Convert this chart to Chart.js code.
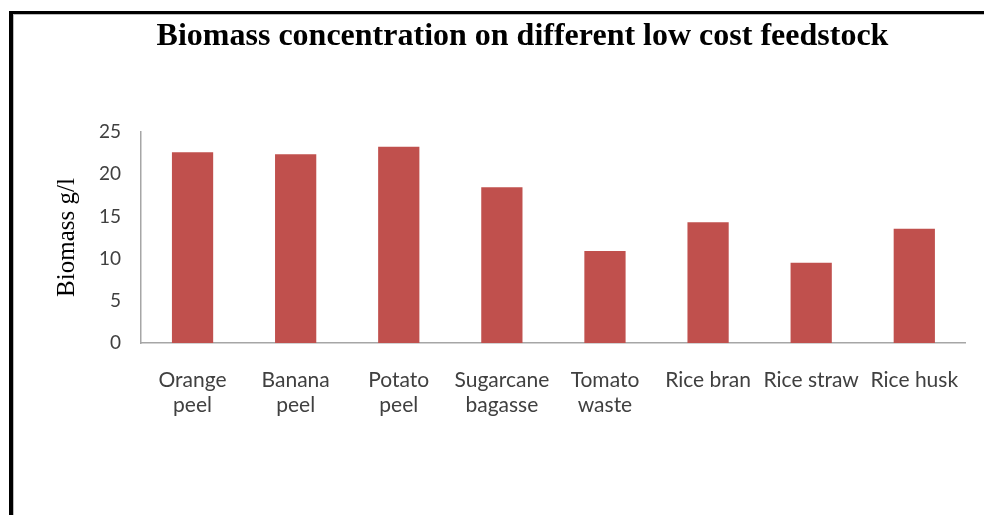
<!DOCTYPE html>
<html>
<head>
<meta charset="utf-8">
<script src="https://cdn.jsdelivr.net/npm/chart.js@4"></script>
<style>
    html, body { margin: 0; padding: 0; background: #fff; overflow: hidden; }
    #wrap { position: relative; width: 984px; height: 515px; }
    #frame {
        position: absolute; left: 9px; top: 11px; width: 1000px; height: 600px;
        border-left: 4px solid #000; border-top: 3px solid #000; pointer-events: none;
    }
    #frame div {
        position: absolute; left: 0; top: 0; right: 0; bottom: 0;
        border-left: 1px solid #bbb; border-top: 1px solid #bbb;
    }
</style>
</head>
<body>
<div id="wrap">
    <canvas id="chart" width="984" height="515"></canvas>
    <div id="frame"><div></div></div>
</div>
<script>
const categories = [
    ['Orange', 'peel'],
    ['Banana', 'peel'],
    ['Potato', 'peel'],
    ['Sugarcane', 'bagasse'],
    ['Tomato', 'waste'],
    'Rice bran',
    'Rice straw',
    'Rice husk',
];
const biomass = [22.6, 22.35, 23.25, 18.45, 10.9, 14.3, 9.5, 13.55];
const yTicks = [0, 5, 10, 15, 20, 25];

const serif = '"Liberation Serif", "Times New Roman", serif';
const sans = 'Lato, "Open Sans", sans-serif';

new Chart(document.getElementById('chart'), {
    type: 'bar',
    data: {
        labels: categories,
        datasets: [{
            data: biomass,
            backgroundColor: '#C0504D',
            borderWidth: 0,
            barPercentage: 0.4,
            categoryPercentage: 1,
        }],
    },
    options: {
        responsive: false,
        animation: false,
        layout: { padding: { left: 76, right: 15, top: 0, bottom: 0 } },
        plugins: {
            legend: { display: false },
            tooltip: { enabled: false },
            title: {
                display: true,
                text: 'Biomass concentration on different low cost feedstock',
                color: '#000',
                font: { family: serif, size: 32, weight: 'bold', lineHeight: 1.1 },
                padding: { top: 19, bottom: 77.8 },
            },
        },
        scales: {
            x: {
                grid: { display: false, drawTicks: false },
                border: { display: true, color: '#A6A6A6', width: 1.5 },
                ticks: {
                    color: '#404040',
                    font: { family: sans, size: 21, lineHeight: 1.19 },
                    padding: 25,
                    maxRotation: 0,
                    autoSkip: false,
                },
                afterFit: (scale) => { scale.height = 515 - 343; },
            },
            y: {
                min: 0,
                max: 25,
                afterBuildTicks: (scale) => { scale.ticks = yTicks.map((v) => ({ value: v })); },
                grid: { display: false, drawTicks: false },
                border: { display: true, color: '#A6A6A6', width: 1.5 },
                ticks: { color: '#404040', font: { family: sans, size: 19 }, padding: 20 },
                title: {
                    display: true,
                    text: 'Biomass g/l',
                    color: '#000',
                    font: { family: serif, size: 25, lineHeight: 1 },
                    padding: { top: -21, bottom: 0 },
                },
                afterFit: (scale) => { scale.width = 141 - 76; },
            },
        },
    },
});
</script>
</body>
</html>
